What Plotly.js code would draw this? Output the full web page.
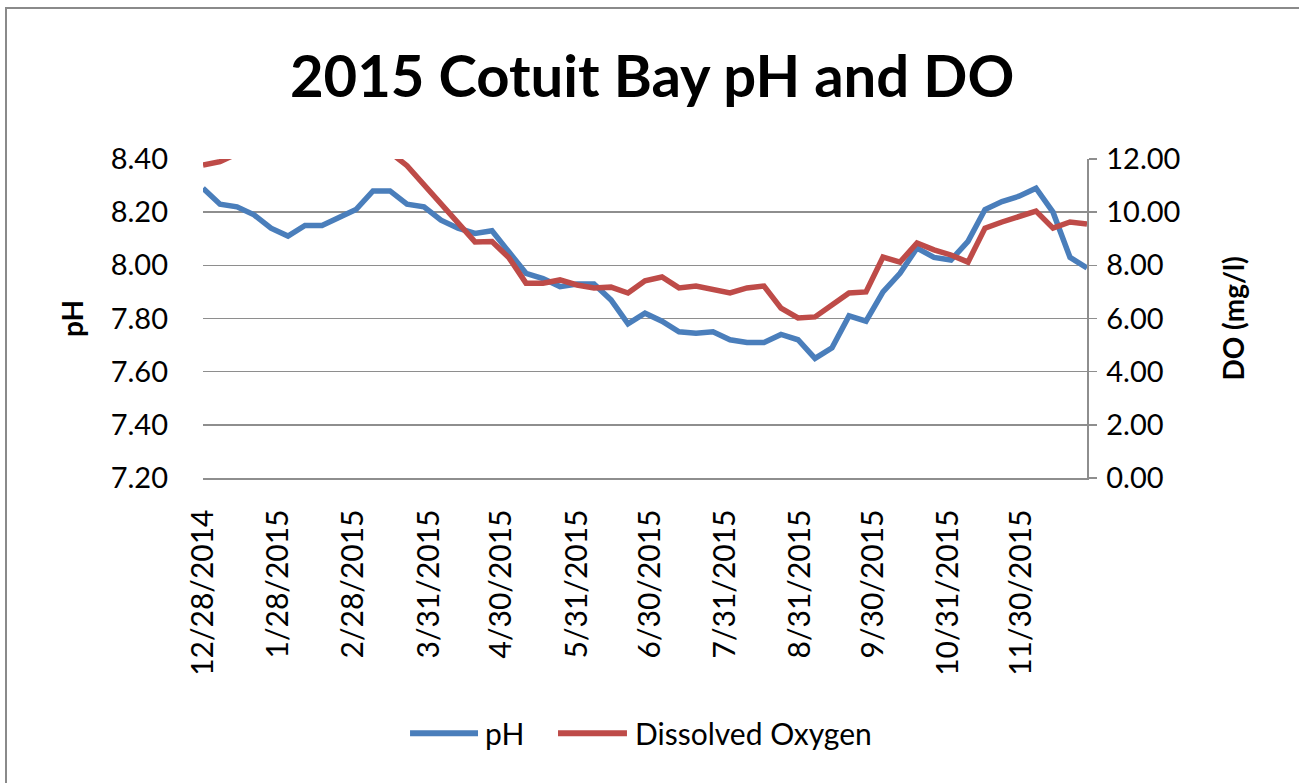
<!DOCTYPE html>
<html>
<head>
<meta charset="utf-8">
<script src="https://cdn.plot.ly/plotly-3.0.1.min.js"></script>
<style>
  html, body { margin: 0; padding: 0; background: #ffffff; overflow: hidden; width: 1299px; height: 783px; }
  #frame { position: absolute; left: 5px; top: 7px; width: 1400px; height: 900px; border: 2px solid #8a8a8a; }
  #chart { position: absolute; left: 0; top: 0; width: 1299px; height: 783px; }
</style>
</head>
<body>
<div id="frame"></div>
<div id="chart"></div>
<script>
// Sampling dates (weekly)
const dates = [
  "2014-12-28","2015-01-04","2015-01-11","2015-01-18","2015-01-25","2015-02-01","2015-02-08","2015-02-15","2015-02-22",
  "2015-03-01","2015-03-08","2015-03-15","2015-03-22","2015-03-29","2015-04-05","2015-04-12","2015-04-19","2015-04-26",
  "2015-05-03","2015-05-10","2015-05-17","2015-05-24","2015-05-31","2015-06-07","2015-06-14","2015-06-21","2015-06-28",
  "2015-07-05","2015-07-12","2015-07-19","2015-07-26","2015-08-02","2015-08-09","2015-08-16","2015-08-23","2015-08-30",
  "2015-09-06","2015-09-13","2015-09-20","2015-09-27","2015-10-04","2015-10-11","2015-10-18","2015-10-25","2015-11-01",
  "2015-11-08","2015-11-15","2015-11-22","2015-11-29","2015-12-06","2015-12-13","2015-12-20","2015-12-27"
];

// pH values (left axis)
const phValues = [
  8.29, 8.23, 8.22, 8.19, 8.14, 8.11, 8.15, 8.15, 8.18,
  8.21, 8.28, 8.28, 8.23, 8.22, 8.17, 8.14, 8.12, 8.13,
  8.05, 7.97, 7.95, 7.92, 7.93, 7.93, 7.87, 7.78, 7.82,
  7.79, 7.75, 7.745, 7.75, 7.72, 7.71, 7.71, 7.74, 7.72,
  7.65, 7.69, 7.81, 7.79, 7.90, 7.97, 8.065, 8.03, 8.02,
  8.09, 8.21, 8.24, 8.26, 8.29, 8.20, 8.03, 7.99
];

// Dissolved oxygen values, mg/l (right axis; early values run above the 12.00 axis limit)
const doValues = [
  11.77, 11.90, 12.20, 12.50, 12.80, 13.00, 13.10, 13.00, 12.90,
  12.70, 12.50, 12.25, 11.75, 11.05, 10.35, 9.65, 8.88, 8.90,
  8.28, 7.33, 7.33, 7.45, 7.26, 7.15, 7.18, 6.96, 7.42,
  7.56, 7.15, 7.22, 7.11, 6.96, 7.15, 7.22, 6.39, 6.02,
  6.06, 6.51, 6.96, 7.00, 8.31, 8.12, 8.84, 8.58, 8.39,
  8.12, 9.40, 9.63, 9.82, 10.04, 9.40, 9.63, 9.55
];

// X-axis tick positions and labels
const tickDates = ["2014-12-28","2015-01-28","2015-02-28","2015-03-31","2015-04-30","2015-05-31",
                   "2015-06-30","2015-07-31","2015-08-31","2015-09-30","2015-10-31","2015-11-30"];
const tickLabels = ["12/28/2014","1/28/2015","2/28/2015","3/31/2015","4/30/2015","5/31/2015",
                    "6/30/2015","7/31/2015","8/31/2015","9/30/2015","10/31/2015","11/30/2015"];

// Series names and colours
const seriesNames = ["pH", "Dissolved Oxygen"];
const seriesColors = ["#4A7EBB", "#BE4B48"];

const FONT = "Lato, 'Open Sans', sans-serif";
const GRID = "#8e8e8e";

const traces = [
  {
    x: dates, y: phValues, name: seriesNames[0], type: "scatter", mode: "lines",
    line: { color: seriesColors[0], width: 5.5 }, yaxis: "y", showlegend: false
  },
  {
    x: dates, y: doValues, name: seriesNames[1], type: "scatter", mode: "lines",
    line: { color: seriesColors[1], width: 5.5 }, yaxis: "y2", showlegend: false
  }
];

// Legend drawn below the chart (long line keys like the original)
const legY = -0.80;
const legendItems = [
  { x0: 0.2342, x1: 0.3111, tx: 0.3170 },
  { x0: 0.4016, x1: 0.4796, tx: 0.4860 }
];
const shapes = legendItems.map((it, i) => ({
  type: "line", xref: "paper", yref: "paper",
  x0: it.x0, x1: it.x1, y0: legY, y1: legY,
  line: { color: seriesColors[i], width: 6 }
}));
const annotations = legendItems.map((it, i) => ({
  xref: "paper", yref: "paper", x: it.tx, y: legY,
  xanchor: "left", yanchor: "middle", showarrow: false,
  text: seriesNames[i],
  font: { family: FONT, size: 30, color: "#000000" }
}));

const layout = {
  width: 1299, height: 783,
  margin: { l: 203, r: 212, t: 159, b: 305 },
  paper_bgcolor: "rgba(0,0,0,0)",
  plot_bgcolor: "#ffffff",
  font: { family: FONT, color: "#000000" },
  title: {
    text: "<b>2015 Cotuit Bay pH and DO</b>",
    font: { family: FONT, size: 58, color: "#000000" },
    x: 0.502, xref: "container", xanchor: "center",
    y: 0.902, yref: "container", yanchor: "middle"
  },
  showlegend: false,
  shapes: shapes,
  annotations: annotations,
  xaxis: {
    type: "date",
    range: ["2014-12-28", "2015-12-27"],
    tickmode: "array", tickvals: tickDates, ticktext: tickLabels,
    tickangle: -90, tickfont: { family: FONT, size: 30, color: "#000000" },
    showgrid: false, zeroline: false,
    showline: true, linecolor: GRID, linewidth: 1.5,
    ticks: "", ticklabelstandoff: 18
  },
  yaxis: {
    range: [7.2, 8.4], dtick: 0.2, tick0: 7.2, tickformat: ".2f",
    tickfont: { family: FONT, size: 29, color: "#000000" },
    showgrid: true, gridcolor: GRID, gridwidth: 1.5,
    zeroline: false, showline: false, ticks: "",
    ticklabelstandoff: 34,
    title: { text: "<b>pH</b>", font: { family: FONT, size: 28, color: "#000000" }, standoff: 18 }
  },
  yaxis2: {
    range: [0, 12], dtick: 2, tick0: 0, tickformat: ".2f",
    overlaying: "y", side: "right",
    tickfont: { family: FONT, size: 29, color: "#000000" },
    showgrid: false, zeroline: false,
    showline: true, linecolor: GRID, linewidth: 1.5,
    ticks: "outside", ticklen: 8, tickcolor: GRID, tickwidth: 1.5,
    ticklabelstandoff: 4,
    title: { text: "<b>DO (mg/l)</b>", font: { family: FONT, size: 28, color: "#000000" }, standoff: 45 }
  }
};

Plotly.newPlot("chart", traces, layout, { displayModeBar: false, staticPlot: true });
</script>
</body>
</html>
